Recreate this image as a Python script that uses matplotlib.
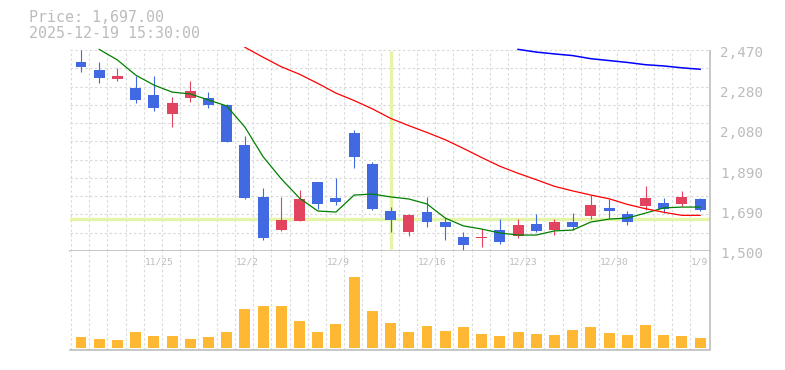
import numpy as np
import matplotlib.pyplot as plt
import matplotlib.transforms as mtrans

nan = np.nan

# daily bars, 2025-11-18 .. 2026-01-09
dates = ['11/18', '11/19', '11/20', '11/21', '11/25', '11/26', '11/27', '11/28',
         '12/1', '12/2', '12/3', '12/4', '12/5', '12/8', '12/9', '12/10', '12/11',
         '12/12', '12/15', '12/16', '12/17', '12/18', '12/19', '12/22', '12/23',
         '12/24', '12/25', '12/26', '12/29', '12/30', '1/5', '1/6', '1/7', '1/8', '1/9']
tick_dates = ['11/25', '12/2', '12/9', '12/16', '12/23', '12/30', '1/9']

open_ = [2411, 2373, 2331, 2287, 2253, 2163, 2240, 2238, 2205, 2012, 1761, 1601,
         1645, 1833, 1756, 2069, 1920, 1693, 1592, 1688, 1640, 1568, 1565, 1601,
         1572, 1630, 1601, 1640, 1669, 1708, 1679, 1717, 1732, 1727, 1751]
high = [2470, 2412, 2383, 2345, 2345, 2243, 2320, 2267, 2209, 2055, 1804, 1762,
        1794, 1833, 1854, 2084, 1930, 1714, 1680, 1762, 1659, 1592, 1604, 1654,
        1654, 1679, 1654, 1683, 1770, 1751, 1693, 1814, 1756, 1790, 1756]
low = [2365, 2309, 2322, 2213, 2177, 2100, 2220, 2192, 2026, 1752, 1553, 1598,
       1645, 1703, 1722, 1902, 1698, 1592, 1572, 1616, 1553, 1502, 1521, 1534,
       1564, 1592, 1577, 1601, 1654, 1659, 1625, 1698, 1683, 1717, 1693]
close = [2389, 2336, 2345, 2230, 2192, 2214, 2272, 2206, 2027, 1757, 1564, 1650,
         1751, 1727, 1736, 1954, 1703, 1650, 1675, 1640, 1616, 1529, 1568, 1543,
         1625, 1597, 1640, 1616, 1722, 1693, 1640, 1756, 1703, 1761, 1697]

ma5 = [nan, 2473, 2422, 2349, 2301, 2267, 2258, 2229, 2200, 2098, 1955, 1848,
       1755, 1693, 1688, 1770, 1775, 1761, 1751, 1727, 1659, 1621, 1606, 1587,
       1577, 1577, 1597, 1601, 1640, 1654, 1659, 1683, 1708, 1712, 1712]
ma25 = [nan] * 9 + [2483, 2435, 2389, 2353, 2309, 2262, 2226, 2186, 2140, 2105,
                    2072, 2037, 1995, 1951, 1909, 1875, 1844, 1812, 1790, 1770,
                    1752, 1725, 1704, 1687, 1672, 1672]
ma75 = [nan] * 24 + [2473, 2460, 2451, 2443, 2428, 2419, 2410, 2399, 2393, 2384, 2377]

volume = [110, 90, 80, 160, 120, 120, 90, 110, 160, 390, 420, 420, 270, 160, 240,
          710, 370, 250, 160, 220, 170, 210, 140, 120, 160, 140, 130, 180, 210, 150,
          130, 230, 130, 120, 100]

price_min, price_max = 1500, 2470
cross_date, cross_price = '12/12', 1653
header = ['Price: 1,697.00', '2025-12-19 15:30:00']

UP, DOWN = '#e2435f', '#4169e1'
GRID = '#d9d9d9'
TXT = '#bcbcbc'
AXC = '#bdbdbd'
FONT = 'DejaVu Sans Mono'

W, H = 785, 370
fig = plt.figure(figsize=(W / 100, H / 100), dpi=100)


def px_axes(left, top, right, bottom):
    return fig.add_axes([left / W, 1 - bottom / H, (right - left) / W, (bottom - top) / H])


ax = px_axes(70, 47, 710, 251)
axv = px_axes(70, 251, 710, 350)

x = np.arange(len(dates))
o, h, l, c = map(np.array, (open_, high, low, close))
xl = (-0.604, 34.54)
px_per_price = 201 / (price_max - price_min)
ax.set_xlim(xl)
ax.set_ylim(price_min, price_min + 204 / px_per_price)
axv.set_xlim(xl)
axv.set_ylim(-20, 970)

for a in (ax, axv):
    a.set_xticks([])
    a.set_yticks([])
    for s in a.spines.values():
        s.set_visible(False)
    a.spines['bottom'].set_visible(True)
    a.spines['bottom'].set_color(AXC)
    a.spines['bottom'].set_linewidth(1.2)

dash = (0, (2.2, 2.2))
gx = x - 0.55
ax.hlines(np.linspace(price_min, price_max, 12)[1:], xl[0], xl[1], colors=GRID,
          linestyles=dash, lw=0.8, zorder=0)
ax.vlines(gx, price_min, price_max, colors=GRID, linestyles=dash, lw=0.8, zorder=0)
axv.vlines(gx, -20, 970, colors=GRID, linestyles=dash, lw=0.8, zorder=0)
ax.vlines(xl[1], price_min, price_max, colors=AXC, lw=1.2, clip_on=False)
axv.vlines(xl[1], -20, 970, colors=AXC, lw=1.2, clip_on=False)

# crosshair
cx = dates.index(cross_date)
ax.vlines(cx, 1512, 2466, colors='#e4f5a8', lw=2.4, zorder=1)
ax.axhline(cross_price, color='#e4f5a8', lw=2.4, zorder=1)

# candles
cols = np.where(c >= o, UP, DOWN)
ax.vlines(x, l, h, colors=cols, lw=0.8, zorder=2)
ax.bar(x, np.maximum(np.abs(c - o), 4), 0.6, bottom=np.minimum(o, c), color=cols,
       linewidth=0, zorder=3)

ax.plot(x, ma5, color='#008000', lw=0.9, zorder=4)
ax.plot(x, ma25, color='#ff0000', lw=0.9, zorder=4)
ax.plot(x, ma75, color='#0000ff', lw=1.1, zorder=4)

# volume
axv.bar(x, volume, 0.6, color='#ffb833', linewidth=0, zorder=2)
for d in tick_dates:
    axv.text(dates.index(d) - 0.52, 0.885, d, transform=axv.get_xaxis_transform(),
             ha='left', va='center', fontsize=6.8, color=TXT, family=FONT)

# price labels on the right
trans = mtrans.offset_copy(ax.get_yaxis_transform(), fig=fig, x=10, y=-3, units='dots')
for v in np.linspace(price_min, price_max, 6):
    ax.text(1.0, v, f'{round(v, -1):,.0f}', transform=trans, ha='left', va='center',
            fontsize=10.3, color=TXT, family=FONT)

fig.text(29 / W, 1 - 17 / H, header[0], ha='left', va='center', fontsize=10.8,
         color=TXT, family=FONT)
fig.text(29 / W, 1 - 33 / H, header[1], ha='left', va='center', fontsize=10.8,
         color=TXT, family=FONT)

fig.savefig('out.png', dpi=100)
